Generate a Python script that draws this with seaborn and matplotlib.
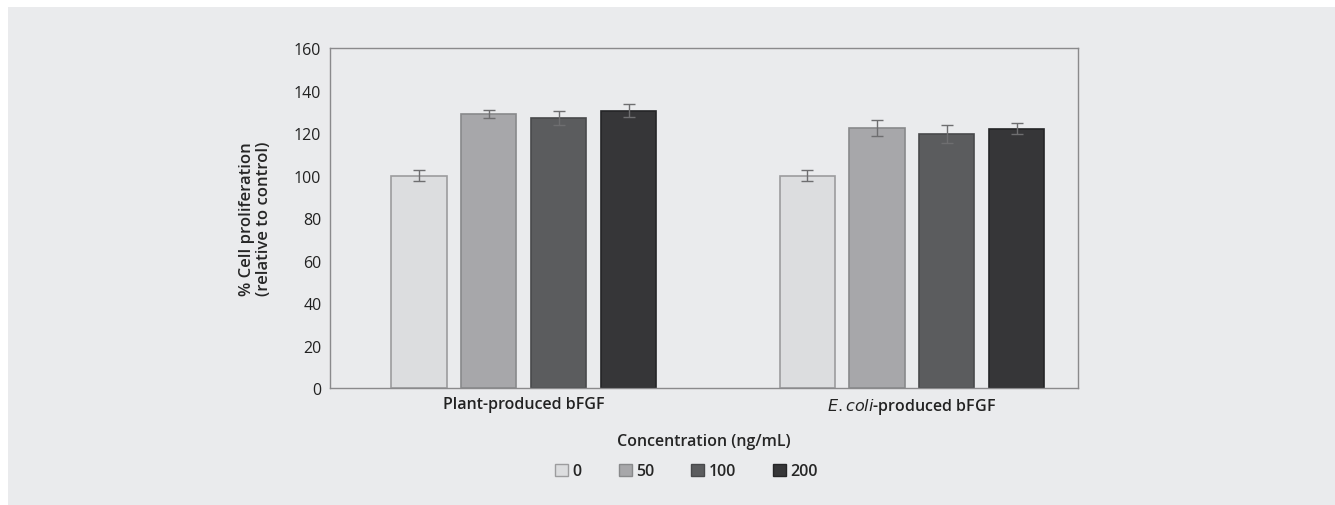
import numpy as np
import pandas as pd
import matplotlib
matplotlib.use("Agg")
import matplotlib.pyplot as plt
from matplotlib.patches import Rectangle
import seaborn as sns

sns.set_style("white")
plt.rcParams["font.family"] = ["Open Sans", "DejaVu Sans"]

GROUPS = ["Plant-produced bFGF", "$\\it{E. coli}$-produced bFGF"]
CONCENTRATIONS = ["0", "50", "100", "200"]
PLANT_MEAN = [100, 129, 127, 130.5]
PLANT_ERR = [2.6, 1.8, 3.3, 3.0]
ECOLI_MEAN = [100, 122.5, 119.5, 122]
ECOLI_ERR = [2.6, 3.8, 4.2, 2.6]

BAR_COLORS = ["#DCDDDF", "#A6A7AA", "#5B5C5E", "#363638"]
EDGE_COLORS = ["#9C9C9E", "#88898B", "#48494B", "#252527"]
BG = "#EAEBED"

df = pd.DataFrame({
    "group": [GROUPS[0]] * 4 + [GROUPS[1]] * 4,
    "conc": CONCENTRATIONS * 2,
    "value": PLANT_MEAN + ECOLI_MEAN,
    "err": PLANT_ERR + ECOLI_ERR,
})

fig = plt.figure(figsize=(13.35, 5.06), dpi=100, facecolor="white")
fig.patches.append(Rectangle((0.006, 0.0), 0.994, 0.984, transform=fig.transFigure,
                             facecolor=BG, edgecolor="none", zorder=-10))
ax = fig.add_axes([0.247, 0.231, 0.5605, 0.672])
ax.set_facecolor(BG)

sns.barplot(data=df, x="group", y="value", hue="conc", hue_order=CONCENTRATIONS,
            palette=BAR_COLORS, width=0.72, gap=0.21, errorbar=None,
            linewidth=1.2, ax=ax)

# edge colours + error bars from bar geometry
bars = [p for p in ax.patches if p.get_height() > 0]
bars = sorted(bars, key=lambda p: p.get_x())
for k, p in enumerate(bars):
    g = 0 if k < 4 else 1
    h = k % 4
    p.set_edgecolor(EDGE_COLORS[h])
    err = PLANT_ERR[h] if g == 0 else ECOLI_ERR[h]
    ax.errorbar(p.get_x() + p.get_width() / 2, p.get_height(), yerr=err,
                fmt="none", ecolor="#6E6E70", elinewidth=1.0, capsize=4, capthick=1.0)

ax.set_ylim(0, 160)
ax.set_yticks(range(0, 161, 20))
ax.set_xlim(-0.5, 1.428)
ax.tick_params(axis="both", length=0, labelsize=11.5, colors="#222222", pad=6)
for lbl in ax.get_xticklabels():
    lbl.set_fontweight("semibold")
for s in ax.spines.values():
    s.set_color("#8A8A8C")
    s.set_linewidth(1.0)

ax.set_ylabel("% Cell proliferation\n(relative to control)", fontsize=12,
              fontweight="semibold", labelpad=16, linespacing=1.1)
ax.set_xlabel("Concentration (ng/mL)", fontsize=11.5, fontweight="semibold", labelpad=12)

handles, labels = ax.get_legend_handles_labels()
leg = ax.legend(handles, labels, loc="center", bbox_to_anchor=(0.477, -0.245), ncol=4,
                frameon=False, handlelength=0.8, handleheight=0.8, handletextpad=0.3,
                columnspacing=2.3, prop={"size": 11.5, "weight": "semibold"})
for h, ec in zip(leg.get_patches(), EDGE_COLORS):
    h.set_edgecolor(ec)
    h.set_linewidth(1.0)

fig.savefig("out.png", dpi=100, facecolor="white")
